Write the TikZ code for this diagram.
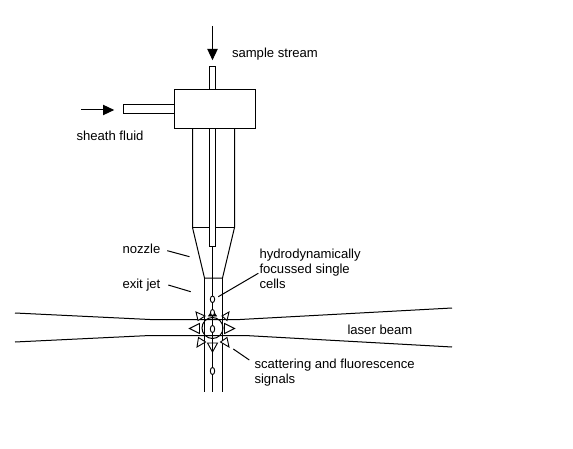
\documentclass[tikz,border=0pt]{standalone}
\usepackage{fontspec}
\setmainfont{Liberation Sans}
\tikzset{
  px/.style={x=1pt,y=-1pt,line width=1pt,line cap=butt,line join=miter},
  lbl/.style={inner sep=0pt,anchor=base west,font=\fontsize{13.1}{14}\selectfont},
  solidtip/.style={fill=black,draw=black},
  hollowtip/.style={fill=white,draw=black,line width=0.9pt},
  cell/.style={draw=black,fill=white,line width=0.9pt},
  tube/.style={draw=black,fill=white}
}
\begin{document}
\begin{tikzpicture}[px]
\useasboundingbox (0,0) rectangle (573,449);
% laser beam
\draw (15,313) -- (150,319.5) -- (240,319.5) -- (452,308);
\draw (15,342) -- (150,335.5) -- (245,335.5) -- (452,347);
% jet
\draw (204.5,278) -- (204.5,392);
\draw (222.5,278) -- (222.5,392);
\draw (212.5,246) -- (212.5,263);
\draw[line width=1.8pt] (212.5,263) -- (212.5,316);
% outer tube and nozzle
\draw (192.5,128) -- (192.5,227.5) -- (204.5,278) -- (222.5,278) -- (234.5,227.5) -- (234.5,128);
\draw (192.5,227.5) -- (234.5,227.5);
% inner tube
\draw[tube] (209.5,128) -- (209.5,246.5) -- (215.5,246.5) -- (215.5,128);
% head
\draw[tube] (209.5,66.5) rectangle (215.5,89.5);
\draw[tube] (123.5,104.5) rectangle (174.5,113.5);
\draw[tube] (174.5,89.5) rectangle (255.5,128.5);
% interrogation point
\draw (212.5,328) circle (10.5);
\foreach \tipx/\tipy/\ax/\ay/\bx/\by in {
  234.5/328.5/224.5/323.5/224.5/333.5,
  189.5/328.5/199.5/323.5/199.5/333.5,
  196/312/198/320.5/205/316,
  229/312/222/316/227/320.5,
  197/347/198.5/337.5/205.5/342,
  229/347/220.5/342/227/337.5}
  \draw[hollowtip] (\tipx,\tipy) -- (\ax,\ay) -- (\bx,\by) -- cycle;
\draw[hollowtip] (212.5,352) -- (207.5,343) -- (217.5,343) -- cycle;
\draw[solidtip,line width=.6pt] (212.5,310) -- (208.5,316) -- (216.5,316) -- cycle;
\draw (212.5,316) -- (212.5,392);
% cells
\draw[cell] (212.5,299.3) ellipse (2.2 and 3.3);
\draw[cell] (212.5,312.5) ellipse (2 and 3);
\draw[cell] (212.5,329) ellipse (2.2 and 3.6);
\draw[cell] (212.5,371) ellipse (2.2 and 3.6);
% inlet arrows
\coordinate (sampletail) at (212.5,26);
\coordinate (sampletip) at (212.5,59);
\coordinate (sheathtail) at (81,110);
\coordinate (sheathtip) at (113,110);
\draw (sampletail) -- (212.5,50);
\draw[solidtip] (sampletip) -- (208,49.5) -- (217,49.5) -- cycle;
\draw (sheathtail) -- (104,110);
\draw[solidtip] (sheathtip) -- (103.5,105.5) -- (103.5,114.5) -- cycle;
% labels
\node[lbl] (sample) at (231.5,58) {sample stream};
\node[lbl] (sheath) at (76,141) {sheath fluid};
\node[lbl] (nozzle) at (122,254) {nozzle};
\node[lbl] (exit) at (122,288) {exit jet};
\node[lbl] (cells1) at (259,258.5) {hydrodynamically};
\node[lbl] (cells2) at (259,273) {focussed single};
\node[lbl] (cells3) at (259,288) {cells};
\node[lbl] (laser) at (347,334) {laser beam};
\node[lbl] (scat1) at (254,368) {scattering and fluorescence};
\node[lbl] (scat2) at (254,383) {signals};
% leaders
\coordinate (nozzleend) at (189.5,256.7);
\coordinate (nozzlestart) at (167.3,250.7);
\coordinate (exitend) at (190.7,291.7);
\coordinate (exitstart) at (168.3,285);
\coordinate (cellend) at (218.3,296.7);
\coordinate (cellstart) at (258.3,273.3);
\coordinate (scatend) at (233.3,349);
\coordinate (scatstart) at (249.3,360);
\draw (nozzlestart) -- (nozzleend);
\draw (exitstart) -- (exitend);
\draw (cellstart) -- (cellend);
\draw (scatstart) -- (scatend);
\end{tikzpicture}
\end{document}
